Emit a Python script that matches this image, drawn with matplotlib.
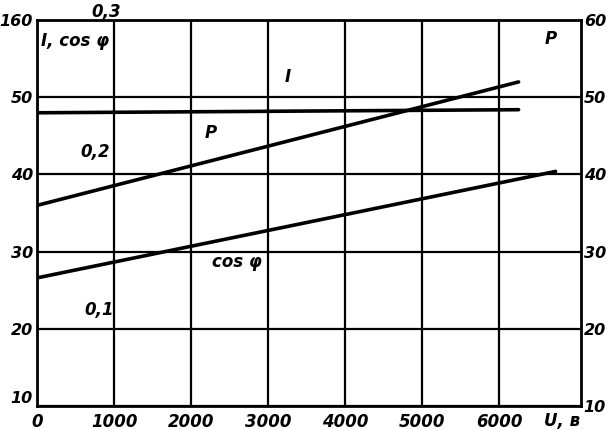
"""Current, cos phi and power vs. voltage -- redraw of an old scanned chart."""

import matplotlib

matplotlib.use("Agg")
import matplotlib.pyplot as plt

# ---- data ----
u_current = [0, 6250]
current = [48.0, 48.4]

u_power = [0, 6250]
power = [36.0, 52.0]

u_cos = [0, 6730]
cos_phi = [26.6, 40.4]

x_ticks = [0, 1000, 2000, 3000, 4000, 5000, 6000]
y_ticks = [10, 20, 30, 40, 50, 60]
y_left_labels = ["10", "20", "30", "40", "50", "160"]
y_right_labels = ["10", "20", "30", "40", "50", "60"]

# cos phi scale marks, written on the left of the field
cos_ticks = ["0,1", "0,2", "0,3"]
cos_tick_pos = [22.4, 42.9, 61.0]
cos_tick_u = [800, 760, 900]

FONT = dict(family="DejaVu Sans", style="italic", weight="bold")

fig = plt.figure(figsize=(6.09, 4.30), dpi=100)
ax = fig.add_axes([0.061, 0.056, 0.893, 0.897])
ax.set_xlim(0, 7060)
ax.set_ylim(10, 60)

ax.set_xticks(x_ticks)
ax.set_xticklabels([str(t) for t in x_ticks], fontsize=12, **FONT)
ax.set_yticks(y_ticks)
ax.set_yticklabels(y_left_labels, fontsize=11.5, **FONT)
ax.tick_params(axis="x", length=0, pad=5)
ax.tick_params(axis="y", length=0, pad=3)
# lift the bottom-left "10" a little so it clears the "0" below it
ax.get_yticklabels()[0].set_va("bottom")
ax.grid(True, color="black", lw=1.6)
ax.set_axisbelow(True)
for sp in ax.spines.values():
    sp.set_linewidth(2.0)

ax2 = ax.twinx()
ax2.set_ylim(ax.get_ylim())
ax2.set_yticks(y_ticks)
ax2.set_yticklabels(y_right_labels, fontsize=11.5, **FONT)
ax2.tick_params(length=0, pad=2)
for sp in ax2.spines.values():
    sp.set_visible(False)

ax.plot(u_current, current, color="black", lw=2.6, solid_capstyle="round")
ax.plot(u_power, power, color="black", lw=2.6, solid_capstyle="round")
ax.plot(u_cos, cos_phi, color="black", lw=2.6, solid_capstyle="round")

for lab, y, u in zip(cos_ticks, cos_tick_pos, cos_tick_u):
    ax.text(u, y, lab, fontsize=12, ha="center", va="center",
            clip_on=False, **FONT)

ax.text(0.008, 0.945, "I, cos φ", transform=ax.transAxes, fontsize=12,
        ha="left", va="center", **FONT)
ax.text(0.945, 0.95, "P", transform=ax.transAxes, fontsize=12,
        ha="center", va="center", **FONT)
ax.text(3250, 52.6, "I", fontsize=12, ha="center", va="center", **FONT)
ax.text(2250, 45.4, "P", fontsize=12, ha="center", va="center", **FONT)
ax.text(2600, 28.7, "cos φ", fontsize=12, ha="center", va="center", **FONT)
ax.text(0.965, -0.016, "U, в", transform=ax.transAxes, fontsize=12,
        ha="center", va="top", **FONT)

fig.savefig("out.png", dpi=100)
